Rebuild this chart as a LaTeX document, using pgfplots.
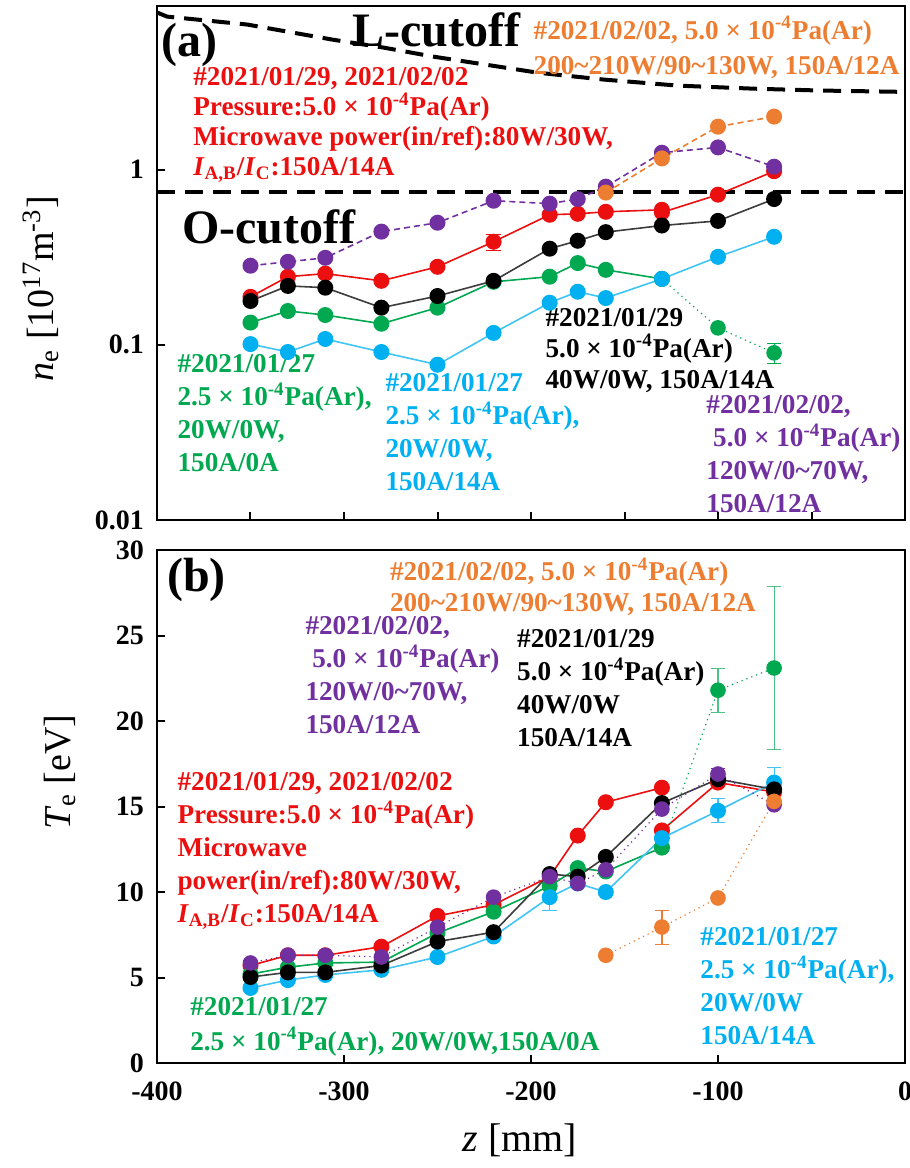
\documentclass[border=0pt]{standalone}
\usepackage{fontspec}
\setmainfont{Liberation Serif}
\usepackage{pgfplots}
\pgfplotsset{compat=1.18}
\definecolor{cred}{RGB}{235,15,15}
\definecolor{cgreen}{RGB}{0,168,80}
\definecolor{cblue}{RGB}{0,176,240}
\definecolor{cpurple}{RGB}{112,48,160}
\definecolor{corange}{RGB}{237,125,49}
\definecolor{cgray}{RGB}{60,60,60}
\newcommand{\sci}{5.0 × 10\textsuperscript{-4}Pa(Ar)}
\newcommand{\scii}{2.5 × 10\textsuperscript{-4}Pa(Ar)}
\newcommand{\tl}{\textasciitilde}
\pgfplotsset{
  base/.style={
    width=374pt, scale only axis, xmin=-400, xmax=0, clip=false,
    tick align=inside, tick pos=left, major tick length=4pt,
    every tick/.style={black, line width=1pt},
    axis line style={line width=1.2pt},
    tick label style={font=\bfseries\fontsize{14}{14}\selectfont},
    yticklabel style={xshift=-3pt},
    xticklabel style={yshift=-6pt},
    /pgf/number format/assume math mode=true,
  },
  ser/.style={line width=0.8pt, mark=*, mark size=3.6pt, mark options={solid}},
}
\tikzset{anno/.style={anchor=north west, inner sep=0pt, align=left, font=\bfseries\fontsize{13.6}{16.5}\selectfont}}
\begin{document}
\begin{tikzpicture}
\path[use as bounding box] (-78.5pt,260pt) rectangle (376.5pt,-324pt);
% ---------------- (a) ----------------
\begin{axis}[base, at={(0,0)}, anchor=south west, height=257pt,
  ymode=log, ymin=0.01, ymax=8.6, yminorticks=false,
  xtick={-350,-300,...,-50}, xticklabels={},
  ytick={0.01,0.1,1}, yticklabels={0.01,0.1,1},
  ylabel={\textit{n}\textsubscript{e} [10\textsuperscript{17}m\textsuperscript{-3}]},
  ylabel style={font=\fontsize{19}{19}\selectfont, at={(axis description cs:-0.155,0.45)}, anchor=center},
]
% cutoffs
\addplot[black, line width=2pt, dash pattern=on 9pt off 5pt] table {
z n
-400 7.9
-394.6 7.48
-351.8 6.74
-306.3 5.53
-279 4.98
-252.2 4.42
-207.2 3.73
-196.5 3.58
-161.2 3.27
-121.6 3.02
-80.9 2.9
-45 2.83
0 2.78
};
\addplot[black, line width=2pt, dash pattern=on 9pt off 5pt] coordinates {(-400,0.744) (0,0.744)};
% red
\addplot[cred, ser, error bars/.cd, y dir=both, y explicit, error bar style={line width=0.6pt}] table[x=z, y=n, y error=e] {
z n e
-350 0.188 0
-330 0.245 0
-310 0.255 0
-280 0.232 0
-250 0.279 0
-220 0.388 0.04
-190 0.553 0
-175 0.56 0
-160 0.575 0
-130 0.59 0
};
\addplot[cred, ser] table {
z n
-130 0.57
-100 0.72
-70 0.98
};
% green
\addplot[cgreen, ser] table {
z n
-350 0.134
-330 0.156
-310 0.148
-280 0.132
-250 0.163
-220 0.229
-190 0.245
-175 0.293
-160 0.268
-130 0.238
};
\addplot[cgreen, ser, line width=0.6pt, dotted, error bars/.cd, y dir=both, y explicit, error bar style={line width=0.6pt, solid}] table[x=z, y=n, y error=e] {
z n e
-130 0.238 0
-100 0.125 0
-70 0.09 0.012
};
% blue
\addplot[cblue!75!white, ser, mark options={fill=cblue, draw=cblue}] table {
z n
-350 0.101
-330 0.091
-310 0.108
-280 0.091
-250 0.077
-220 0.117
-190 0.174
-175 0.201
-160 0.185
-130 0.238
-100 0.318
-70 0.414
};
% black
\addplot[cgray, ser, mark options={fill=black, draw=black}] table {
z n
-350 0.178
-330 0.217
-310 0.212
-280 0.163
-250 0.19
-220 0.232
-190 0.354
-175 0.393
-160 0.44
-130 0.48
-100 0.51
-70 0.68
};
% purple
\addplot[cpurple, ser, dash pattern=on 3pt off 2pt] table {
z n
-350 0.283
-330 0.298
-310 0.314
-280 0.443
-250 0.498
-220 0.665
-190 0.64
-175 0.68
-160 0.8
-130 1.25
-100 1.34
-70 1.04
};
% orange
\addplot[corange, ser, dash pattern=on 3pt off 2pt] table {
z n
-160 0.74
-130 1.16
-100 1.76
-70 2.01
};
\node[anchor=west, inner sep=0pt, font=\bfseries\fontsize{24}{24}\selectfont] at (rel axis cs:0.005,0.924) {(a)};
\node[anchor=west, inner sep=0pt, font=\bfseries\fontsize{24}{24}\selectfont] at (rel axis cs:0.261,0.953) {L-cutoff};
\node[anchor=west, inner sep=0pt, font=\bfseries\fontsize{24}{24}\selectfont] at (rel axis cs:0.033,0.570) {O-cutoff};
\node[anno, text=corange, font=\bfseries\fontsize{13.6}{17.5}\selectfont] at (rel axis cs:0.503,0.981) {\#2021/02/02, \sci\\200\tl210W/90\tl130W, 150A/12A};
\node[anno, text=cred, font=\bfseries\fontsize{13.6}{15}\selectfont] at (rel axis cs:0.048,0.881) {\#2021/01/29, 2021/02/02\\Pressure:\sci\\Microwave power(in/ref):80W/30W,\\\textit{I}\textsubscript{A,B}/\textit{I}\textsubscript{C}:150A/14A};
\node[anno, text=cgreen] at (rel axis cs:0.027,0.323) {\#2021/01/27\\\scii,\\20W/0W,\\150A/0A};
\node[anno, text=cblue] at (rel axis cs:0.305,0.286) {\#2021/01/27\\\scii,\\20W/0W,\\150A/14A};
\node[anno, text=black, font=\bfseries\fontsize{13.6}{15.5}\selectfont] at (rel axis cs:0.519,0.413) {\#2021/01/29\\\sci\\40W/0W, 150A/14A};
\node[anno, text=cpurple] at (rel axis cs:0.734,0.243) {\#2021/02/02,\\\hspace{0.25em}\sci\\120W/0\tl70W,\\150A/12A};
\end{axis}
% ---------------- (b) ----------------
\begin{axis}[base, at={(0,-271.5pt)}, anchor=south west, height=256.5pt,
  ymin=0, ymax=30,
  xtick={-400,-300,...,0}, xticklabels={-400,-300,-200,-100,0},
  ytick={0,5,...,30}, yticklabels={0,5,10,15,20,25,30},
  xlabel={\textit{z} [mm]},
  xlabel style={font=\fontsize{20}{20}\selectfont, at={(axis description cs:0.485,-0.15)}, anchor=center},
  ylabel={\textit{T}\textsubscript{e} [eV]},
  ylabel style={font=\fontsize{19}{19}\selectfont, at={(axis description cs:-0.13,0.567)}, anchor=center},
]
% red
\addplot[cred, ser] table {
z T
-350 5.7
-330 6.3
-310 6.3
-280 6.8
-250 8.6
-220 9.25
-190 10.9
-175 13.3
-160 15.25
-130 16.1
};
\addplot[cred, ser] table {
z T
-130 13.6
-100 16.4
-70 15.85
};
% green
\addplot[cgreen, ser] table {
z T
-350 5.2
-330 5.6
-310 5.85
-280 5.9
-250 7.6
-220 8.85
-190 10.35
-175 11.4
-160 11.2
-130 12.6
};
\addplot[cgreen, ser, line width=0.6pt, dotted, error bars/.cd, y dir=both, y explicit, error bar style={line width=0.6pt, solid, cgreen!70!white}] table[x=z, y=T, y error=e] {
z T e
-130 12.6 0
-100 21.8 1.3
-70 23.1 4.75
};
% blue
\addplot[cblue!75!white, ser, mark options={fill=cblue, draw=cblue}, error bars/.cd, y dir=both, y explicit, error bar style={line width=0.6pt}] table[x=z, y=T, y error=e] {
z T e
-350 4.39 0
-330 4.85 0
-310 5.15 0
-280 5.45 0
-250 6.2 0
-220 7.4 0
-190 9.7 0.8
-175 10.5 0
-160 10.0 0
-130 13.15 0
-100 14.75 0.7
-70 16.4 0.9
};
% black
\addplot[cgray, ser, mark options={fill=black, draw=black}] table {
z T
-350 5.03
-330 5.3
-310 5.3
-280 5.7
-250 7.1
-220 7.65
-190 11.05
-175 10.9
-160 12.05
-130 15.2
-100 16.6
-70 16.0
};
% purple
\addplot[cpurple, ser, line width=0.6pt, dotted, error bars/.cd, y dir=both, y explicit, error bar style={line width=0.6pt, solid}] table[x=z, y=T, y error=e] {
z T e
-350 5.85 0
-330 6.3 0
-310 6.3 0
-280 6.2 0
-250 7.95 0
-220 9.7 0
-190 10.9 0
-175 10.5 0
-160 11.3 0
-130 14.85 0
-100 16.9 0.35
-70 15.1 0
};
% orange
\addplot[corange, ser, line width=0.6pt, dotted, error bars/.cd, y dir=both, y explicit, error bar style={line width=0.6pt, solid}] table[x=z, y=T, y error=e] {
z T e
-160 6.3 0
-130 7.95 1.0
-100 9.65 0
-70 15.3 0
};
\node[anchor=west, inner sep=0pt, font=\bfseries\fontsize{24}{24}\selectfont] at (rel axis cs:0.013,0.941) {(b)};
\node[anno, text=corange, font=\bfseries\fontsize{13.6}{15.5}\selectfont] at (rel axis cs:0.311,0.986) {\#2021/02/02, \sci\\200\tl210W/90\tl130W, 150A/12A};
\node[anno, text=cpurple] at (rel axis cs:0.198,0.871) {\#2021/02/02,\\\hspace{0.25em}\sci\\120W/0\tl70W,\\150A/12A};
\node[anno, text=black] at (rel axis cs:0.481,0.846) {\#2021/01/29\\\sci\\40W/0W\\150A/14A};
\node[anno, text=cred] at (rel axis cs:0.027,0.567) {\#2021/01/29, 2021/02/02\\Pressure:\sci\\Microwave\\power(in/ref):80W/30W,\\\textit{I}\textsubscript{A,B}/\textit{I}\textsubscript{C}:150A/14A};
\node[anno, text=cgreen, font=\bfseries\fontsize{13.6}{17.5}\selectfont] at (rel axis cs:0.044,0.129) {\#2021/01/27\\\scii, 20W/0W,150A/0A};
\node[anno, text=cblue] at (rel axis cs:0.726,0.265) {\#2021/01/27\\\scii,\\20W/0W\\150A/14A};
\end{axis}
\end{tikzpicture}
\end{document}
